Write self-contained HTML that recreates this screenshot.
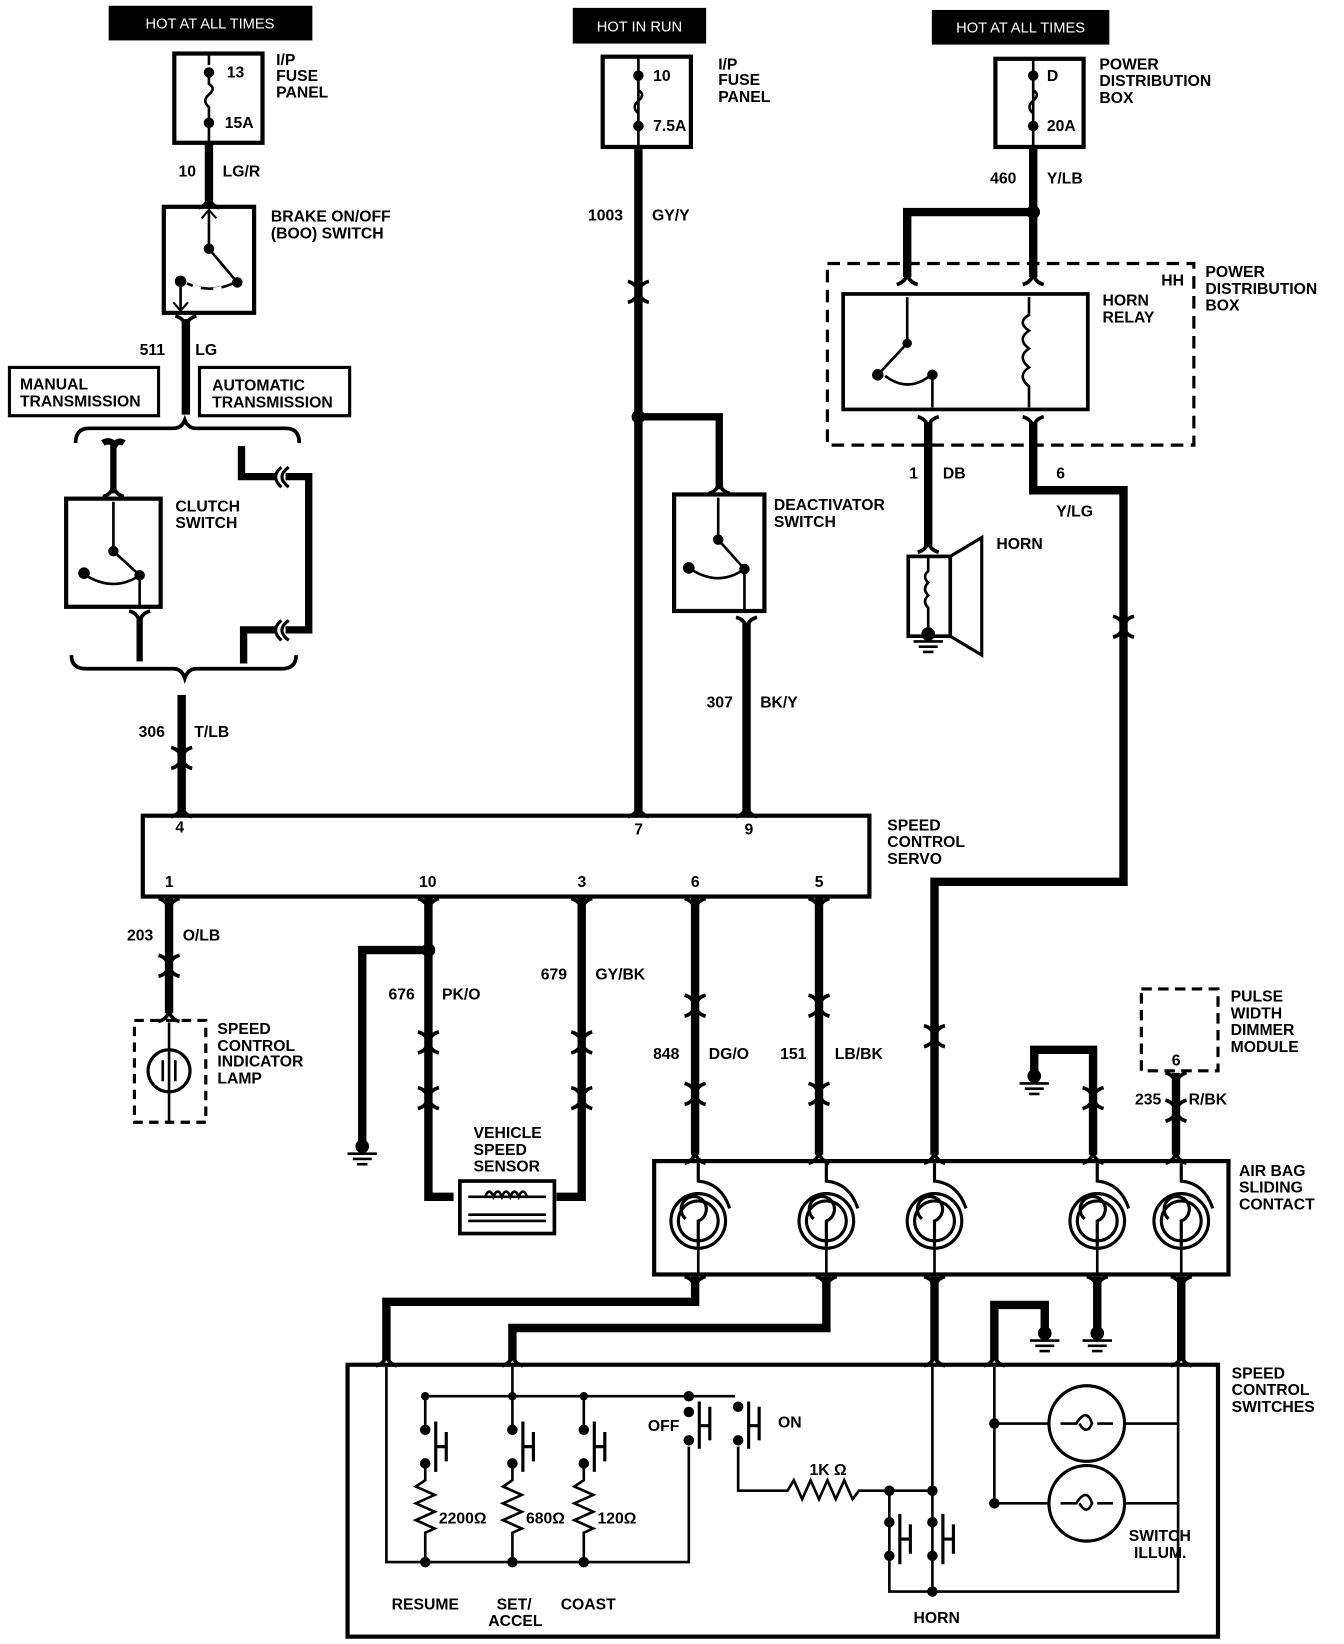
<!DOCTYPE html>
<html><head><meta charset="utf-8"><style>
html,body{margin:0;padding:0;background:#fff;}
svg{display:block}
text{font-family:"Liberation Sans",sans-serif;font-weight:bold;font-size:15px;fill:#000}
.w{fill:#fff;font-weight:normal;font-size:14px}
</style></head><body>
<svg width="1344" height="1644" viewBox="0 0 1280 1566" preserveAspectRatio="none" xmlns="http://www.w3.org/2000/svg">
<defs>
<g id="fd"><path d="M-10,8 Q-2,6 0,-2 Q2,6 10,8" fill="none" stroke="#000" stroke-width="3.5"/></g>
<g id="fu"><path d="M-10,-8 Q-2,-6 0,2 Q2,-6 10,-8" fill="none" stroke="#000" stroke-width="3.5"/></g>
<g id="gnd"><circle cx="0" cy="0" r="6" fill="#000"/><path d="M-14,7 H14 M-9,12 H9 M-5,17 H5" stroke="#000" stroke-width="2.5"/></g>
<g id="coil"><circle r="26" fill="none" stroke="#000" stroke-width="3"/><circle r="19" fill="none" stroke="#000" stroke-width="3"/><path d="M0,24 V0 A12,12 0 1 0 -12,-2" fill="none" stroke="#000" stroke-width="3"/><path d="M0,-55 V-38 Q22,-36 30,-12" fill="none" stroke="#000" stroke-width="3"/><path d="M0,24 V50" stroke="#000" stroke-width="2.5"/></g>
<g id="sw"><circle cx="0" cy="0" r="4.5" fill="#000"/><circle cx="0" cy="32" r="4.5" fill="#000"/><path d="M10,-8 V40 M10,16 H20 M20,2 V30" stroke="#000" stroke-width="3" fill="none"/></g>
</defs>
<g stroke="#000" fill="none">
<rect x="104" y="6" width="193" height="32" fill="#000"/>
<rect x="546" y="8" width="126" height="33" fill="#000"/>
<rect x="888" y="10" width="168" height="32" fill="#000"/>
<rect x="166" y="51" width="84" height="85" stroke-width="4"/>
<path d="M199,51 V62 M199,69 V80 Q206,84 199,90 Q192,96 199,102 V117 V136" stroke-width="2.5"/>
<path d="M199,136 V196" stroke-width="8"/>
<use href="#fd" x="199" y="190"/>
<rect x="156" y="197" width="86" height="101" stroke-width="4"/>
<path d="M199,200 V237 L226,269 M172,268 V296 M178,270 Q200,280 222,270" stroke-width="2.5"/>
<path d="M192,208 L199,200 L206,208 M165,288 L172,296 L179,288" stroke-width="2"/>
<path d="M178,270 Q200,281 222,270" stroke="#fff" stroke-width="3" stroke-dasharray="0 6 8 6"/>
<use href="#fu" x="177" y="309"/>
<path d="M177,304 V395" stroke-width="8"/>
<rect x="9" y="350" width="142" height="46" stroke-width="3"/>
<rect x="190" y="350" width="143" height="46" stroke-width="3"/>
<path d="M72,422 Q72,408 85,408 H165 Q173,408 176,400 Q179,408 187,408 H272 Q285,408 285,422" stroke-width="3.5"/>
<path d="M68,624 Q68,637 82,637 H165 Q173,637 176,646 Q179,637 187,637 H268 Q282,637 282,624" stroke-width="3.5"/>
<path d="M108,422 V470 M98,422 Q104,418 110,424 M118,422 Q112,418 108,426" stroke-width="6"/>
<use href="#fd" x="108" y="465"/>
<rect x="63" y="475" width="90" height="103" stroke-width="4"/>
<path d="M108,478 V525 L133,548 V578 M80,547 Q108,565 133,548" stroke-width="2.5"/>
<circle cx="108" cy="525" r="4.5" fill="#000"/><circle cx="133" cy="548" r="4.5" fill="#000"/><circle cx="80" cy="546" r="5" fill="#000"/>
<use href="#fu" x="133" y="590"/>
<path d="M133,588 V630" stroke-width="6"/>
<path d="M230,425 V454 H262 M272,454 H294 V600 H272 M262,600 H232 V632" stroke-width="7"/>
<path d="M275,445 Q262,454 275,464 M268,445 Q257,454 268,464 M275,591 Q262,600 275,610 M268,591 Q257,600 268,610" stroke-width="3"/>
<path d="M173,662 V775" stroke-width="8"/>
<use href="#fd" x="173" y="724"/><use href="#fu" x="173" y="720"/>
<use href="#fd" x="173" y="770"/>
<rect x="136" y="777" width="692" height="77" stroke-width="4"/>
<path d="M608,142 V775" stroke-width="8"/>
<use href="#fd" x="608" y="280"/><use href="#fu" x="608" y="276"/><use href="#fd" x="608" y="770"/>
<path d="M608,397 H685 V466" stroke-width="7"/>
<circle cx="608" cy="397" r="6" fill="#000"/>
<use href="#fd" x="685" y="462"/>
<rect x="642" y="471" width="86" height="111" stroke-width="4"/>
<path d="M684,474 V514 L709,542 V582 M656,541 Q684,560 709,542" stroke-width="2.5"/>
<circle cx="684" cy="514" r="4.5" fill="#000"/><circle cx="709" cy="542" r="4.5" fill="#000"/><circle cx="656" cy="541" r="5" fill="#000"/>
<use href="#fu" x="711" y="596"/>
<path d="M711,594 V775" stroke-width="8"/><use href="#fd" x="711" y="770"/>
<rect x="574" y="54" width="84" height="86" stroke-width="4"/>
<path d="M608,54 V120 M608,72 V86 Q615,90 608,96 Q601,102 608,108 V140" stroke-width="2.5"/>
<circle cx="608" cy="72" r="4.5" fill="#000"/><circle cx="608" cy="120" r="4.5" fill="#000"/>
<circle cx="199" cy="69" r="4.5" fill="#000"/><circle cx="199" cy="117" r="4.5" fill="#000"/>
<circle cx="199" cy="237" r="4.5" fill="#000"/><circle cx="226" cy="269" r="4.5" fill="#000"/><circle cx="172" cy="268" r="5" fill="#000"/>
<rect x="948" y="56" width="84" height="84" stroke-width="4"/>
<path d="M984,56 V140 M984,72 V86 Q991,90 984,96 Q977,102 984,108" stroke-width="2.5"/>
<circle cx="984" cy="72" r="4.5" fill="#000"/><circle cx="984" cy="120" r="4.5" fill="#000"/>
<path d="M984,140 V264 M984,202 H864 V264" stroke-width="8"/>
<circle cx="984" cy="202" r="6" fill="#000"/>
<use href="#fd" x="864" y="263"/><use href="#fd" x="984" y="263"/>
<rect x="788" y="251" width="349" height="173" stroke-width="3" stroke-dasharray="12 7"/>
<rect x="803" y="280" width="233" height="110" stroke-width="3.5"/>
<path d="M864,283 V327 L836,357 M888,357 V388 M843,358 Q865,375 887,357" stroke-width="2.5"/>
<circle cx="864" cy="327" r="4" fill="#000"/><circle cx="888" cy="357" r="4.5" fill="#000"/><circle cx="836" cy="357" r="5" fill="#000"/>
<path d="M980,283 V300 Q968,307 980,315 Q968,323 980,332 Q968,340 980,350 Q968,358 980,368 V388" stroke-width="2.5"/>
<use href="#fu" x="884" y="405"/><use href="#fu" x="984" y="405"/>
<path d="M884,403 V520" stroke-width="8"/><use href="#fd" x="884" y="518"/>
<path d="M984,403 V467 H1070 V840 H890 V1100" stroke-width="8"/>
<use href="#fu" x="1070" y="595"/><use href="#fd" x="1070" y="599"/>
<use href="#fu" x="890" y="985"/><use href="#fd" x="890" y="989"/>
<use href="#fd" x="890" y="1100"/>
<rect x="865" y="530" width="40" height="76" stroke-width="3.5"/>
<path d="M905,530 L935,512 V624 L905,606" stroke-width="3"/>
<path d="M884,530 V544 Q878,549 884,555 Q878,561 884,567 Q878,573 884,579 V600" stroke-width="2.5"/>
<use href="#gnd" x="884" y="604"/>
<path d="M161,855 V965" stroke-width="8"/>
<use href="#fu" x="161" y="864"/><use href="#fd" x="161" y="922"/><use href="#fu" x="161" y="918"/><use href="#fd" x="161" y="965"/>
<rect x="128" y="972" width="68" height="97" stroke-width="3" stroke-dasharray="9 6"/>
<circle cx="161" cy="1020" r="20" stroke-width="3"/>
<path d="M161,974 V1068 M155,1010 V1030 M167,1010 V1030" stroke-width="2.5"/>
<path d="M408,855 V1140 H432 M408,905 H345 V1090" stroke-width="8"/>
<circle cx="408" cy="905" r="6" fill="#000"/>
<use href="#fu" x="408" y="864"/><use href="#fd" x="408" y="995"/><use href="#fu" x="408" y="991"/><use href="#fd" x="408" y="1048"/><use href="#fu" x="408" y="1044"/>
<use href="#gnd" x="345" y="1092"/>
<path d="M554,855 V1140 H530" stroke-width="8"/>
<use href="#fu" x="554" y="864"/><use href="#fd" x="554" y="995"/><use href="#fu" x="554" y="991"/><use href="#fd" x="554" y="1048"/><use href="#fu" x="554" y="1044"/>
<rect x="438" y="1125" width="90" height="50" stroke-width="3.5"/>
<path d="M446,1140 H520 M446,1157 H520 M446,1163 H520 M462,1140 Q466,1130 470,1140 Q474,1130 478,1140 Q482,1130 486,1140 Q490,1130 494,1140 Q498,1130 502,1140" stroke-width="2.5"/>
<path d="M662,855 V1100 M780,855 V1100" stroke-width="8"/>
<use href="#fu" x="662" y="864"/><use href="#fd" x="662" y="960"/><use href="#fu" x="662" y="956"/><use href="#fd" x="662" y="1044"/><use href="#fu" x="662" y="1040"/><use href="#fd" x="662" y="1100"/>
<use href="#fu" x="780" y="864"/><use href="#fd" x="780" y="960"/><use href="#fu" x="780" y="956"/><use href="#fd" x="780" y="1044"/><use href="#fu" x="780" y="1040"/><use href="#fd" x="780" y="1100"/>
<path d="M985,1022 V1000 H1041 V1100" stroke-width="8"/>
<use href="#gnd" x="985" y="1025"/>
<use href="#fd" x="1041" y="1048"/><use href="#fu" x="1041" y="1044"/><use href="#fd" x="1041" y="1100"/>
<rect x="1087" y="942" width="73" height="78" stroke-width="3" stroke-dasharray="10 6"/>
<path d="M1120,1022 V1100" stroke-width="8"/>
<use href="#fu" x="1120" y="1030"/><use href="#fd" x="1120" y="1060"/><use href="#fu" x="1120" y="1056"/><use href="#fd" x="1120" y="1100"/>
<rect x="623" y="1106" width="547" height="108" stroke-width="4"/>
<use href="#coil" x="665" y="1163"/><use href="#coil" x="787" y="1163"/><use href="#coil" x="890" y="1163"/><use href="#coil" x="1045" y="1163"/><use href="#coil" x="1125" y="1163"/>
<path d="M662,1216 V1240 H368 V1296 M787,1216 V1265 H488 V1296 M890,1216 V1296 M1045,1216 V1268 M1125,1216 V1296 M947,1296 V1243 H995 V1268" stroke-width="8"/>
<use href="#fu" x="662" y="1224"/><use href="#fu" x="787" y="1224"/><use href="#fu" x="890" y="1224"/><use href="#fu" x="1045" y="1224"/><use href="#fu" x="1125" y="1224"/>
<use href="#fd" x="368" y="1293"/><use href="#fd" x="488" y="1293"/><use href="#fd" x="890" y="1293"/><use href="#fd" x="947" y="1293"/><use href="#fd" x="1125" y="1293"/>
<use href="#gnd" x="995" y="1270"/><use href="#gnd" x="1045" y="1270"/>
<rect x="331" y="1300" width="829" height="259" stroke-width="4"/>
<g stroke-width="2.5">
<path d="M368,1302 V1488 H405 M405,1488 H487 H556 H656 V1378"/>
<path d="M488,1302 V1330 M405,1362 V1330 H700 M405,1330 V1362 M488,1330 V1362 M556,1330 V1362"/>
<path d="M405,1394 V1410 L396,1416 L414,1424 L396,1432 L414,1440 L396,1448 L414,1456 L405,1460 V1488"/>
<path d="M488,1394 V1410 L479,1416 L497,1424 L479,1432 L497,1440 L479,1448 L497,1456 L488,1460 V1488"/>
<path d="M556,1394 V1410 L547,1416 L565,1424 L547,1432 L565,1440 L547,1448 L565,1456 L556,1460 V1488"/>
<path d="M703,1378 V1420 H750 L756,1410 L764,1428 L772,1410 L780,1428 L788,1410 L796,1428 L804,1410 L812,1428 L818,1420 H888 M847,1420 V1516 H1122 V1302 M888,1302 V1420 V1516 M947,1302 V1356 H1122 M947,1356 V1432 H1122"/>
</g>
<use href="#sw" x="405" y="1362"/><use href="#sw" x="488" y="1362"/><use href="#sw" x="556" y="1362"/>
<use href="#sw" x="847" y="1450"/><use href="#sw" x="888" y="1450"/>
<circle cx="656" cy="1330" r="4.5" fill="#000"/><circle cx="656" cy="1345" r="4.5" fill="#000"/><circle cx="656" cy="1372" r="4.5" fill="#000"/>
<path d="M666,1335 V1380 M666,1358 H676 M676,1340 V1372" stroke-width="3"/>
<circle cx="703" cy="1340" r="4.5" fill="#000"/><circle cx="703" cy="1372" r="4.5" fill="#000"/>
<path d="M713,1335 V1380 M713,1358 H723 M723,1340 V1372" stroke-width="3"/>
<g fill="#000" stroke="none">
<circle cx="405" cy="1330" r="4"/><circle cx="488" cy="1330" r="4"/><circle cx="556" cy="1330" r="4"/>
<circle cx="405" cy="1488" r="5"/><circle cx="488" cy="1488" r="5"/><circle cx="556" cy="1488" r="5"/>
<circle cx="847" cy="1420" r="5"/><circle cx="888" cy="1420" r="5"/><circle cx="888" cy="1516" r="5"/>
<circle cx="947" cy="1356" r="5"/><circle cx="947" cy="1432" r="5"/>
</g>
<circle cx="1035" cy="1356" r="36" stroke-width="3" fill="#fff"/>
<circle cx="1035" cy="1432" r="36" stroke-width="3" fill="#fff"/>
<path d="M1010,1356 H1025 Q1035,1340 1040,1356 Q1035,1368 1028,1356 M1045,1356 H1060 M1010,1432 H1025 Q1035,1416 1040,1432 Q1035,1444 1028,1432 M1045,1432 H1060" stroke-width="2.5"/>
</g>
<text class="w" x="200" y="27" text-anchor="middle">HOT AT ALL TIMES</text>
<text class="w" x="609" y="30" text-anchor="middle">HOT IN RUN</text>
<text class="w" x="972" y="31" text-anchor="middle">HOT AT ALL TIMES</text>
<text x="216" y="74">13</text><text x="214" y="122">15A</text>
<text x="263" y="62">I/P</text><text x="263" y="77">FUSE</text><text x="263" y="93">PANEL</text>
<text x="622" y="77">10</text><text x="622" y="125">7.5A</text>
<text x="684" y="66">I/P</text><text x="684" y="81">FUSE</text><text x="684" y="97">PANEL</text>
<text x="997" y="77">D</text><text x="997" y="125">20A</text>
<text x="1047" y="66">POWER</text><text x="1047" y="82">DISTRIBUTION</text><text x="1047" y="98">BOX</text>
<text x="170" y="168">10</text><text x="212" y="168">LG/R</text>
<text x="258" y="211">BRAKE ON/OFF</text><text x="258" y="227">(BOO) SWITCH</text>
<text x="560" y="210">1003</text><text x="621" y="210">GY/Y</text>
<text x="943" y="175">460</text><text x="997" y="175">Y/LB</text>
<text x="1106" y="272">HH</text>
<text x="1148" y="264">POWER</text><text x="1148" y="280">DISTRIBUTION</text><text x="1148" y="296">BOX</text>
<text x="1050" y="291">HORN</text><text x="1050" y="307">RELAY</text>
<text x="133" y="338">511</text><text x="186" y="338">LG</text>
<text x="19" y="371">MANUAL</text><text x="19" y="387">TRANSMISSION</text>
<text x="202" y="372">AUTOMATIC</text><text x="202" y="388">TRANSMISSION</text>
<text x="866" y="456">1</text><text x="898" y="456">DB</text>
<text x="1006" y="456">6</text><text x="1006" y="492">Y/LG</text>
<text x="167" y="487">CLUTCH</text><text x="167" y="503">SWITCH</text>
<text x="737" y="486">DEACTIVATOR</text><text x="737" y="502">SWITCH</text>
<text x="949" y="523">HORN</text>
<text x="673" y="674">307</text><text x="724" y="674">BK/Y</text>
<text x="132" y="702">306</text><text x="185" y="702">T/LB</text>
<text x="167" y="793">4</text><text x="604" y="795">7</text><text x="709" y="795">9</text>
<text x="845" y="791">SPEED</text><text x="845" y="807">CONTROL</text><text x="845" y="823">SERVO</text>
<text x="157" y="845">1</text><text x="399" y="845">10</text><text x="550" y="845">3</text><text x="658" y="845">6</text><text x="776" y="845">5</text>
<text x="121" y="896">203</text><text x="174" y="896">O/LB</text>
<text x="370" y="952">676</text><text x="421" y="952">PK/O</text>
<text x="515" y="933">679</text><text x="567" y="933">GY/BK</text>
<text x="622" y="1009">848</text><text x="675" y="1009">DG/O</text>
<text x="743" y="1009">151</text><text x="795" y="1009">LB/BK</text>
<text x="207" y="985">SPEED</text><text x="207" y="1001">CONTROL</text><text x="207" y="1016">INDICATOR</text><text x="207" y="1032">LAMP</text>
<text x="451" y="1084">VEHICLE</text><text x="451" y="1100">SPEED</text><text x="451" y="1116">SENSOR</text>
<text x="1172" y="954">PULSE</text><text x="1172" y="970">WIDTH</text><text x="1172" y="986">DIMMER</text><text x="1172" y="1002">MODULE</text>
<text x="1116" y="1015">6</text>
<text x="1081" y="1052">235</text><text x="1132" y="1052">R/BK</text>
<text x="1180" y="1120">AIR BAG</text><text x="1180" y="1136">SLIDING</text><text x="1180" y="1152">CONTACT</text>
<text x="1173" y="1313">SPEED</text><text x="1173" y="1329">CONTROL</text><text x="1173" y="1345">SWITCHES</text>
<text x="617" y="1363">OFF</text><text x="741" y="1360">ON</text>
<text x="771" y="1405">1K Ω</text>
<text x="418" y="1451" font-size="13">2200Ω</text><text x="501" y="1451" font-size="13">680Ω</text><text x="569" y="1451" font-size="13">120Ω</text>
<text x="373" y="1533">RESUME</text><text x="473" y="1533">SET/</text><text x="465" y="1549">ACCEL</text><text x="534" y="1533">COAST</text>
<text x="870" y="1546">HORN</text>
<text x="1075" y="1468">SWITCH</text><text x="1080" y="1484">ILLUM.</text>
</svg>
</body></html>
